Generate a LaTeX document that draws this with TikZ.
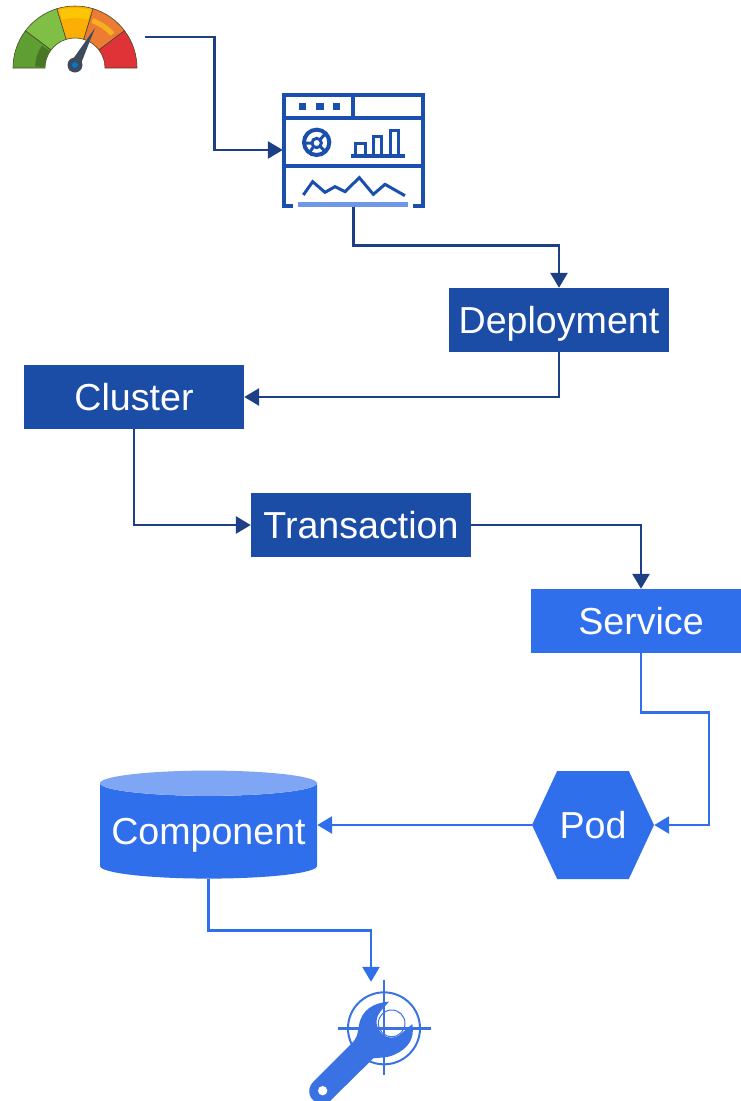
\documentclass[tikz,border=0pt]{standalone}
\usepackage{fontspec}
\setmainfont{Liberation Sans}
\usepackage{xcolor}
\usetikzlibrary{arrows.meta,positioning,calc,shapes.geometric,shapes.symbols}
\definecolor{darkbox}{HTML}{1B4DA6}
\definecolor{darkline}{HTML}{1C3F85}
\definecolor{brightbox}{HTML}{2F6FEB}
\definecolor{lighttop}{HTML}{7FA6F5}
\definecolor{iconblue}{HTML}{1A4FAE}
\definecolor{iconlight}{HTML}{6E97E8}
\definecolor{wrenchblue}{HTML}{3A72E4}
\definecolor{gaugeedge}{HTML}{4A4A2A}
\definecolor{needlegrey}{HTML}{3D4B5C}
\definecolor{gaugedkgreen}{HTML}{5F9E32}
\definecolor{gaugeltgreen}{HTML}{7FBF45}
\definecolor{gaugeyellow}{HTML}{FBAE05}
\definecolor{gaugeorange}{HTML}{EC7C33}
\definecolor{gaugered}{HTML}{DF3338}
\newcommand{\gaugeseg}[3]{\fill[#3,draw=gaugeedge,line width=0.6pt] (#1:62) arc (#1:#2:62) -- (#2:30) arc (#2:#1:30) -- cycle;}
\newcommand{\gaugeband}[5]{\fill[#5] (#1:#3) arc (#1:#2:#3) -- (#2:#4) arc (#2:#1:#4) -- cycle;}
\tikzset{
  labelbox/.style={minimum width=220pt,minimum height=64pt,inner sep=0pt,text=white,text height=26pt,text depth=0pt,font=\fontsize{37.6}{40}\selectfont},
  darkflow/.style={darkline,line width=2.8pt,-{Triangle[length=15pt,width=17pt]}},
  brightflow/.style={brightbox,line width=2.8pt,-{Triangle[length=15pt,width=17pt]}},
  iconbox/.style={inner sep=0pt,minimum width=#1},
}
\begin{document}
\begin{tikzpicture}[x=1pt,y=-1pt]
\clip (0,0) rectangle (741,1101);

% Gauge
\node[iconbox=132pt,minimum height=64pt] (gauge) at (79,37) {};
\begin{scope}[shift={(75,68)},y=1pt]
  \gaugeseg{180}{143}{gaugedkgreen}
  \gaugeseg{143}{107}{gaugeltgreen}
  \gaugeseg{107}{73}{gaugeyellow}
  \gaugeseg{73}{37}{gaugeorange}
  \gaugeseg{37}{0}{gaugered}
  \gaugeband{178}{146}{30.5}{40}{gaugedkgreen!75!black}
  \gaugeband{105}{75}{50}{60}{gaugeyellow!70!yellow}
  \gaugeband{70}{42}{48}{53}{gaugeorange!60!yellow}
  \fill[needlegrey] (-7,2) -- (20,40) -- (7,7) -- (5,-2) -- (-5,-3) -- cycle;
  \fill[needlegrey] (0,3) circle (7.5);
  \fill[blue!40!cyan!80!black] (0,3) circle (3);
\end{scope}

% Dashboard
\node[iconbox=141pt,minimum height=114pt] (board) at (353.5,150) {};
\begin{scope}[shift={(270,85)},scale=1/3,iconblue,line width=4pt]
  \draw (70,363) -- (42,363) -- (42,30) -- (460,30) -- (460,363) -- (430,363);
  \draw (42,100) -- (460,100) (250,30) -- (250,100) (42,243) -- (460,243);
  \foreach \boxx in {97,150,200} \fill (\boxx-11,54) rectangle (\boxx+11,76);
  \draw[line width=4pt] (140,172) circle (38);
  \draw[line width=3pt] (140,174) circle (14) (150,164) -- (166,146) (126,174) -- (102,174) (150,184) -- (166,200) (130,186) -- (118,203);
  \draw[line width=3.2pt] (243,213) -- (405,213);
  \draw[line width=3pt] (255,213) -- (255,175) -- (285,175) -- (285,213) (310,213) -- (310,155) -- (335,155) -- (335,213) (360,213) -- (360,135) -- (385,135) -- (385,213);
  \draw[line width=3pt] (100,330) -- (128,290) -- (165,322) -- (195,305) -- (225,320) -- (268,278) -- (310,328) -- (345,298) -- (405,332);
  \draw[iconlight,line width=5pt] (85,358) -- (415,358);
\end{scope}

% Boxes
\node[labelbox,fill=darkbox] (deploy) at (559,320) {Deployment};
\node[labelbox,fill=darkbox] (cluster) at (134,397) {Cluster};
\node[labelbox,fill=darkbox] (trans) at (361,525) {Transaction};
\node[labelbox,fill=brightbox] (service) at (641,621) {Service};
\node[labelbox,fill=brightbox,shape=signal,signal to=west and east,signal pointer angle=130,minimum width=122pt,minimum height=108pt] (pod) at (593,825) {Pod};
\node[labelbox,shape=cylinder,shape border rotate=90,aspect=0.13,cylinder uses custom fill,cylinder body fill=brightbox,cylinder end fill=lighttop,minimum width=217pt,minimum height=108pt] (comp) at (208.5,831) {Component};

% Wrench
\node[iconbox=10pt,minimum height=119pt] (wrench) at (371,1041.5) {};
\begin{scope}[shift={(295,960)},scale=1/3,wrenchblue]
  \draw[line width=2pt] (267,205) circle (108);
  \draw[line width=1pt] (290,190) circle (40);
  \draw[line width=2.6pt] (267,60) -- (267,345) (128,205) -- (408,205);
  \fill (282,125) .. controls (235,128) and (200,150) .. (192,195) .. controls (188,220) and (188,232) .. (170,250) -- (55,365) .. controls (30,390) and (45,430) .. (80,430) -- (105,423) -- (235,295) .. controls (255,292) and (275,295) .. (300,283) .. controls (340,265) and (360,235) .. (352,192) -- (322,218) .. controls (300,240) and (272,235) .. (258,218) .. controls (238,195) and (243,170) .. (256,155) -- cycle;
  \fill[white] (83,392) circle (14);
\end{scope}

% Arrows
\draw[darkflow] (gauge.east) -- ++(69,0) |- (board.west);
\draw[darkflow] (board.south) -- ++(0,38) -| (deploy.north);
\draw[darkflow] (deploy.south) |- (cluster.east);
\draw[darkflow] (cluster.south) |- (trans.west);
\draw[darkflow] (trans.east) -| (service.north);
\draw[brightflow] (service.south) -- ++(0,59) -- ++(68,0) |- (pod.east);
\draw[brightflow] (pod.west) -- (pod.west -| comp.east);
\draw[brightflow] (comp.south) -- ++(0,52) -| (wrench.north);
\end{tikzpicture}
\end{document}
